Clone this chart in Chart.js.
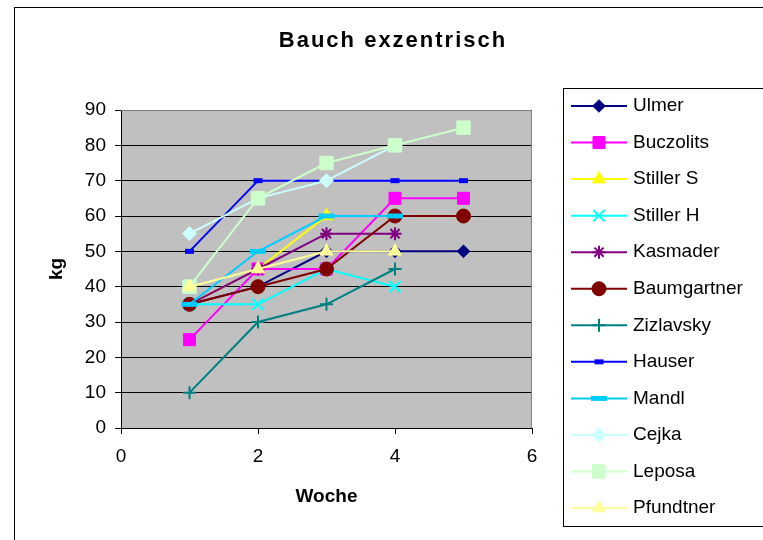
<!DOCTYPE html>
<html>
<head>
<meta charset="utf-8">
<script src="https://cdn.jsdelivr.net/npm/chart.js@4/dist/chart.umd.min.js"></script>
<style>
    body { margin: 0; background: #fff; }
    canvas { display: block; }
</style>
</head>
<body>
<canvas id="chart" width="763" height="540"></canvas>
<script>
// data
const weeks = [1, 2, 3, 4, 5];
const names = ['Ulmer', 'Buczolits', 'Stiller S', 'Stiller H', 'Kasmader', 'Baumgartner',
    'Zizlavsky', 'Hauser', 'Mandl', 'Cejka', 'Leposa', 'Pfundtner'];
const ulmer = [35, 40, 50, 50, 50];
const buczolits = [25, 45, 45, 65, 65];
const stillerS = [35, 45, 60, 60, 60];
const stillerH = [35, 35, 45, 40];
const kasmader = [35, 45, 55, 55];
const baumgartner = [35, 40, 45, 60, 60];
const zizlavsky = [10, 30, 35, 45];
const hauser = [50, 70, 70, 70, 70];
const mandl = [35, 50, 60, 60];
const cejka = [55, 65, 70, 80];
const leposa = [40, 65, 75, 80, 85];
const pfundtner = [40, 45, 50, 50];
const yTicks = [0, 10, 20, 30, 40, 50, 60, 70, 80, 90];
const xTicks = [0, 2, 4, 6];

const seriesValues = [ulmer, buczolits, stillerS, stillerH, kasmader, baumgartner,
    zizlavsky, hauser, mandl, cejka, leposa, pfundtner];

// marker look per series (Excel default order)
const styles = [
    { color: '#000080', point: 'rectRot', radius: 6.3, bw: 1 },
    { color: '#FF00FF', point: 'rect', radius: 8.5, bw: 1 },
    { color: '#FFFF00', point: 'triangle', radius: 7.5, bw: 1 },
    { color: '#00FFFF', point: 'crossRot', radius: 8, bw: 2 },
    { color: '#800080', point: 'star', radius: 6.5, bw: 2 },
    { color: '#800000', point: 'circle', radius: 7, bw: 1 },
    { color: '#008080', point: 'cross', radius: 6.5, bw: 2 },
    { color: '#0000FF', point: 'line', radius: 4.5, bw: 5 },
    { color: '#00CCFF', point: 'line', radius: 8, bw: 5 },
    { color: '#CCFFFF', point: 'rectRot', radius: 7, bw: 1 },
    { color: '#CCFFCC', point: 'rect', radius: 9.5, bw: 1 },
    { color: '#FFFF99', point: 'triangle', radius: 7.5, bw: 1 }
];

const FONT = 'Liberation Sans, Arial, sans-serif';

const datasets = names.map((name, i) => ({
    label: name,
    data: seriesValues[i].map((v, j) => ({ x: weeks[j], y: v })),
    borderColor: styles[i].color,
    backgroundColor: styles[i].color,
    borderWidth: 2,
    pointStyle: styles[i].point,
    pointRadius: styles[i].radius,
    pointHoverRadius: styles[i].radius,
    pointBorderWidth: styles[i].bw,
    pointBackgroundColor: styles[i].color,
    pointBorderColor: styles[i].color,
    tension: 0,
    order: names.length - i
}));

const decorPlugin = {
    id: 'decor',
    beforeDraw(chart) {
        const { ctx, chartArea: a } = chart;
        ctx.save();
        ctx.fillStyle = '#fff';
        ctx.fillRect(0, 0, chart.width, chart.height);
        ctx.strokeStyle = '#000';
        ctx.lineWidth = 1;
        ctx.strokeRect(14.5, 7.5, 800, 600);
        ctx.fillStyle = '#C0C0C0';
        ctx.fillRect(a.left, a.top, a.right - a.left, a.bottom - a.top);
        ctx.restore();
    },
    beforeDatasetsDraw(chart) {
        const { ctx, chartArea: a } = chart;
        ctx.save();
        ctx.strokeStyle = '#808080';
        ctx.lineWidth = 1;
        ctx.beginPath();
        ctx.moveTo(a.left, a.top + 0.5);
        ctx.lineTo(a.right - 0.5, a.top + 0.5);
        ctx.lineTo(a.right - 0.5, a.bottom);
        ctx.stroke();
        ctx.restore();
    },
    afterDraw(chart) {
        const { ctx } = chart;
        ctx.save();
        // title
        ctx.fillStyle = '#000';
        ctx.font = 'bold 22px ' + FONT;
        ctx.letterSpacing = '2px';
        ctx.textAlign = 'center';
        ctx.textBaseline = 'middle';
        ctx.fillText('Bauch exzentrisch', 393, 41);
        ctx.letterSpacing = '0px';

        // legend box
        ctx.fillStyle = '#fff';
        ctx.fillRect(563, 88, 220, 438);
        ctx.strokeStyle = '#000';
        ctx.strokeRect(563.5, 88.5, 220, 438);

        chart.data.datasets.forEach((ds, i) => {
            const y = 106 + i * 36.55;
            ctx.strokeStyle = ds.borderColor;
            ctx.lineWidth = 2;
            ctx.beginPath();
            ctx.moveTo(571, y);
            ctx.lineTo(627, y);
            ctx.stroke();

            ctx.fillStyle = ds.pointBackgroundColor;
            ctx.strokeStyle = ds.pointBorderColor;
            ctx.lineWidth = ds.pointBorderWidth;
            Chart.helpers.drawPoint(ctx, {
                pointStyle: ds.pointStyle,
                radius: ds.pointRadius,
                borderWidth: ds.pointBorderWidth,
                rotation: 0
            }, 599, y);

            ctx.fillStyle = '#000';
            ctx.font = '19px ' + FONT;
            ctx.textAlign = 'left';
            ctx.textBaseline = 'middle';
            ctx.fillText(ds.label, 633, y);
        });
        ctx.restore();
    }
};

new Chart(document.getElementById('chart'), {
    type: 'line',
    data: { datasets },
    plugins: [decorPlugin],
    options: {
        responsive: false,
        animation: false,
        events: [],
        layout: { padding: { top: 110, left: 0, right: 231, bottom: 0 } },
        plugins: {
            legend: { display: false },
            title: { display: false },
            tooltip: { enabled: false }
        },
        scales: {
            x: {
                type: 'linear',
                min: xTicks[0],
                max: xTicks[xTicks.length - 1],
                afterBuildTicks: (scale) => { scale.ticks = xTicks.map(v => ({ value: v })); },
                afterFit: (scale) => { scale.height = 112; },
                grid: { drawOnChartArea: false, drawTicks: true, tickLength: 6, color: '#000' },
                border: { color: '#000', width: 1 },
                ticks: { color: '#000', font: { family: FONT, size: 19 }, padding: 11, maxRotation: 0 },
                title: {
                    display: true, text: 'Woche', color: '#000',
                    font: { family: FONT, size: 19, weight: 'bold' },
                    padding: { top: 0, bottom: 32 }
                }
            },
            y: {
                min: yTicks[0],
                max: yTicks[yTicks.length - 1],
                afterBuildTicks: (scale) => { scale.ticks = yTicks.map(v => ({ value: v })); },
                afterFit: (scale) => { scale.width = 121; },
                grid: { color: '#000', drawTicks: true, tickLength: 6 },
                border: { color: '#000', width: 1 },
                ticks: { color: '#000', font: { family: FONT, size: 19 }, padding: 9 },
                title: {
                    display: true, text: 'kg', color: '#000',
                    font: { family: FONT, size: 19, weight: 'bold' },
                    padding: { top: 45, bottom: 0 }
                }
            }
        }
    }
});
</script>
</body>
</html>
